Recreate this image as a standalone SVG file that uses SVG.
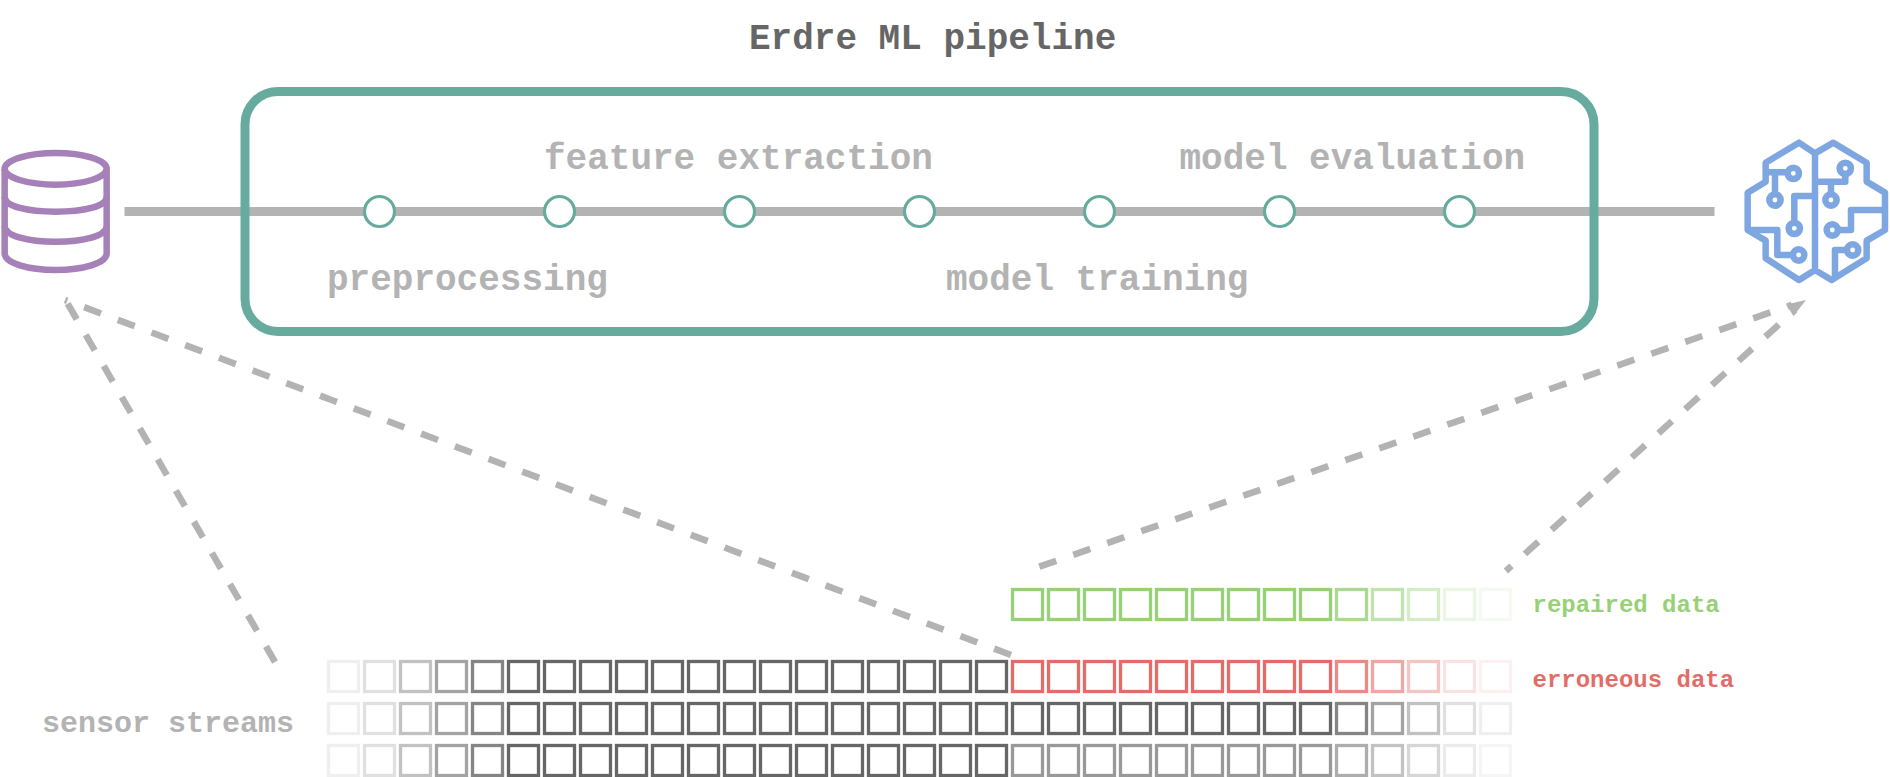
<svg xmlns="http://www.w3.org/2000/svg" xmlns:xlink="http://www.w3.org/1999/xlink" width="1890" height="777" viewBox="0 0 1890 777">
<style>
text{font-family:"Liberation Mono","Courier New",monospace;font-weight:bold;fill:#b3b3b3}
.t36{font-size:36px}
.t30{font-size:30px}
.t24{font-size:24px}
.dash{fill:none;stroke:#b3b3b3;stroke-width:6.6;stroke-dasharray:18 18}
.cell rect{fill:none;stroke-width:3.3;width:30px;height:30px}
.o1{opacity:.1}.o2{opacity:.2}.o4{opacity:.4}.o6{opacity:.6}.o8{opacity:.8}
.step{fill:#fff;stroke:#67ab9f;stroke-width:3.2}
.icon{fill:none;stroke-width:19.5;stroke-linejoin:round;stroke-linecap:butt}
</style>
<defs>
<g id="head" class="cell" stroke="#666666">
<rect class="o1" x="328.5"/><rect class="o2" x="364.5"/><rect class="o4" x="400.5"/><rect class="o6" x="436.5"/><rect class="o8" x="472.5"/>
<rect x="508.5"/><rect x="544.5"/><rect x="580.5"/><rect x="616.5"/><rect x="652.5"/><rect x="688.5"/><rect x="724.5"/><rect x="760.5"/><rect x="796.5"/><rect x="832.5"/><rect x="868.5"/><rect x="904.5"/><rect x="940.5"/><rect x="976.5"/>
</g>
<g id="tail" class="cell">
<rect x="1012.5"/><rect x="1048.5"/><rect x="1084.5"/><rect x="1120.5"/><rect x="1156.5"/><rect x="1192.5"/><rect x="1228.5"/><rect x="1264.5"/><rect x="1300.5"/>
<rect class="o8" x="1336.5"/><rect class="o6" x="1372.5"/><rect class="o4" x="1408.5"/><rect class="o2" x="1444.5"/><rect class="o1" x="1480.5"/>
</g>
</defs>
<rect width="1890" height="777" fill="#fff"/>
<text id="title" class="t36" x="749" y="49" style="fill:#666666">Erdre ML pipeline</text>
<g id="connectors">
<line x1="124.5" y1="211.5" x2="1714.5" y2="211.5" stroke="#b3b3b3" stroke-width="9"/>
<path class="dash" d="M275 662L65 299"/>
<path class="dash" d="M1011 655L65 300"/>
<path class="dash" d="M1039.3 566.7L1792 304.8"/>
<path class="dash" style="stroke-dashoffset:10.4" d="M1505.9 571L1795 310"/>
<polygon points="1786,304.5 1793.5,316 1806,300" fill="#b3b3b3"/>
</g>
<g id="pipeline">
<rect x="245" y="91.5" width="1349" height="240" rx="33" ry="33" fill="none" stroke="#67ab9f" stroke-width="9"/>
</g>
<g id="database" class="icon" stroke="#a680b8" transform="translate(0 100) scale(.3333)">
<ellipse cx="167" cy="206.5" rx="153" ry="47.5"/>
<path d="M14 207V460C14 490 85 510 167 510S320 490 320 460V207"/>
<path d="M14 290C14 320 85 335 167 335S320 320 320 290"/>
<path d="M14 378C14 408 85 425 167 425S320 408 320 378"/>
</g>
<g id="model" class="icon" stroke="#7ea6e0" transform="translate(1700 120) scale(.3333)">
<path d="M345 100L297 68L197 128V185L143 218V330L197 362V415L297 480L345 450L395 480L500 415V362L555 330V218L500 185V128L400 68L345 100V450"/>
<circle cx="280" cy="160" r="17"/><circle cx="225" cy="240" r="17"/><circle cx="283" cy="325" r="17"/><circle cx="296" cy="405" r="17"/>
<circle cx="436" cy="145" r="17"/><circle cx="393" cy="240" r="17"/><circle cx="397" cy="330" r="17"/><circle cx="458" cy="390" r="17"/>
<path d="M197 157H263M225 157V223M345 228H283V308M143 330H232V405H279"/>
<path d="M436 162V185H345M393 185V223M555 270H453V330H414M441 390H405V470"/>
</g>
<g id="step-1"><circle class="step" cx="379.5" cy="211.5" r="15"/></g>
<g id="step-2"><circle class="step" cx="559.5" cy="211.5" r="15"/></g>
<g id="step-3"><circle class="step" cx="739.5" cy="211.5" r="15"/></g>
<g id="step-4"><circle class="step" cx="919.5" cy="211.5" r="15"/></g>
<g id="step-5"><circle class="step" cx="1099.5" cy="211.5" r="15"/></g>
<g id="step-6"><circle class="step" cx="1279.5" cy="211.5" r="15"/></g>
<g id="step-7"><circle class="step" cx="1459.5" cy="211.5" r="15"/></g>
<text id="label-feature" class="t36" x="544" y="169">feature extraction</text>
<text id="label-evaluation" class="t36" x="1179.5" y="169">model evaluation</text>
<text id="label-preprocessing" class="t36" x="327" y="290">preprocessing</text>
<text id="label-training" class="t36" x="946" y="290">model training</text>
<text id="label-sensor" class="t30" x="42" y="732">sensor streams</text>
<text id="label-repaired" class="t24" x="1532.5" y="612" style="fill:#97d077">repaired data</text>
<text id="label-erroneous" class="t24" x="1532.5" y="687" style="fill:#e26d68">erroneous data</text>
<g id="repaired-row" stroke="#97d077"><use href="#tail" y="589.5"/></g>
<g id="stream-1"><use href="#head" y="661.5"/><use href="#tail" y="661.5" stroke="#e26d68"/></g>
<g id="stream-2"><use href="#head" y="703.5"/><use href="#tail" y="703.5" stroke="#666666"/></g>
<g id="stream-3"><use href="#head" y="745.5"/><use href="#tail" y="745.5" stroke="#999999"/></g>
</svg>
